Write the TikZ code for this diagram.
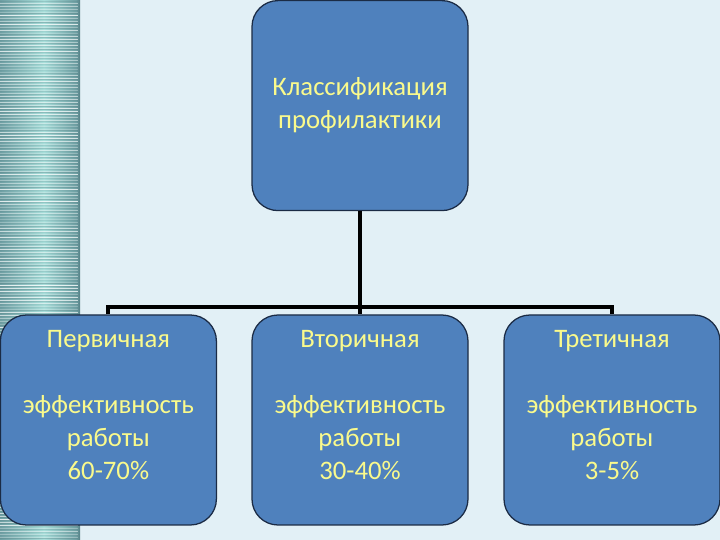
\documentclass[tikz,border=0pt]{standalone}
\usepackage{fontspec}
\setmainfont{Carlito}
\usetikzlibrary{calc}
\definecolor{bgblue}{HTML}{E2F0F6}
\definecolor{boxblue}{HTML}{4F81BD}
\definecolor{boxline}{HTML}{1B2B45}
\definecolor{textyellow}{HTML}{FAFA8C}
\definecolor{stripedark}{HTML}{6E9FA3}
\definecolor{stripelight}{HTML}{A8DEDA}
\definecolor{stripeedge}{HTML}{557F84}
\tikzset{
  level/.style={draw=boxline, line width=0.9pt, fill=boxblue, rounded corners=0.65cm,
    minimum width=5.4cm, minimum height=5.25cm, text=textyellow, align=center,
    font=\fontsize{19}{23.5}\selectfont},
  link/.style={line width=2.8pt, black}
}

\begin{document}
\begin{tikzpicture}
        \useasboundingbox (0,0) rectangle (18,13.5);
        % background and left stripe
        \fill[bgblue] (0,0) rectangle (18,13.5);
        \shade[left color=stripedark, right color=stripelight] (0,0) rectangle (1.1,13.5);
        \shade[left color=stripelight, right color=stripedark] (1.1,0) rectangle (1.9,13.5);
        \shade[left color=stripedark, right color=stripeedge] (1.9,0) rectangle (2,13.5);
        \pgfmathsetseed{7}
        \foreach \k in {0,...,179} {
            \pgfmathsetmacro\yy{\k*0.075}
            \pgfmathsetmacro\op{0.2+0.6*rnd}
            \draw[white, opacity=\op, line width=0.5pt] (0,\yy) -- (1.95,\yy);
            \draw[stripeedge, opacity=0.5*\op, line width=0.4pt] (0,\yy+0.035) -- (1.95,\yy+0.035);
        }
        % boxes
        \node[level] (top) at (9,10.86) {Классификация\\профилактики};
        \node[level] (prim) at (2.71,3) {Первичная\\ \\эффективность\\работы\\60-70\%\\[-9pt] \strut};
        \node[level] (sec) at (9,3) {Вторичная\\ \\эффективность\\работы\\30-40\%\\[-9pt] \strut};
        \node[level] (tert) at (15.3,3) {Третичная\\ \\эффективность\\работы\\3-5\%\\[-9pt] \strut};
        % connectors
        \coordinate (bus) at (9,5.82);
        \draw[link] (top.south) -- (sec.north);
        \draw[link] (prim.north) |- (bus) -| (tert.north);
\end{tikzpicture}
\end{document}
